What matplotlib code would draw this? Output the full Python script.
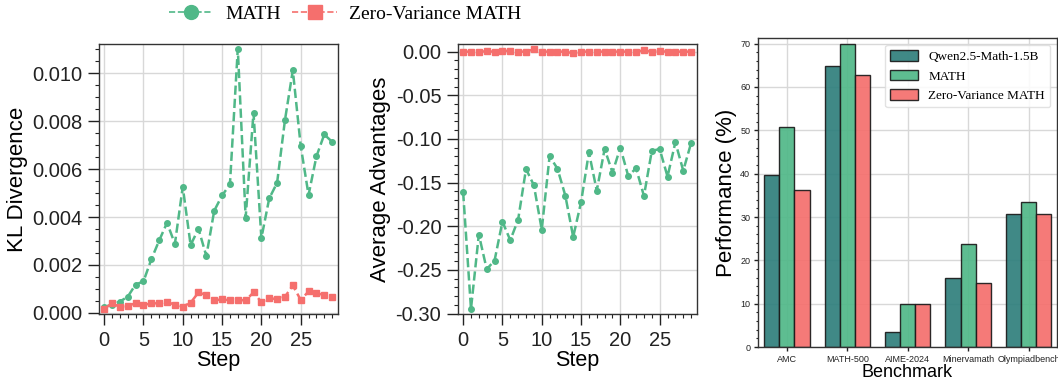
import numpy as np
import matplotlib
matplotlib.use('Agg')
import matplotlib.pyplot as plt
from matplotlib.ticker import AutoMinorLocator, MultipleLocator
from matplotlib.lines import Line2D

# ── Palette ───────────────────────────────────────────────────────────────────
C_BASE = '#2f7f7c'
C_MATH = '#50b888'
C_ZV   = '#f56f6d'
GRID   = '#d8d8d8'
SPINE  = '#333333'

SANS  = ['Liberation Sans', 'DejaVu Sans']
SERIF = ['Liberation Serif', 'DejaVu Serif']

# ── Training curves ───────────────────────────────────────────────────────────
steps = np.arange(30)

kl_math = [0.00025, 0.00033, 0.00047, 0.00067, 0.00118, 0.00131, 0.00223, 0.00302,
           0.00376, 0.00288, 0.00526, 0.00283, 0.00351, 0.00237, 0.00426, 0.00490,
           0.00536, 0.01103, 0.00398, 0.00836, 0.00312, 0.00478, 0.00543, 0.00805,
           0.01013, 0.00698, 0.00492, 0.00653, 0.00745, 0.00714]
kl_zv = [0.00017, 0.00039, 0.00025, 0.00029, 0.00040, 0.00032, 0.00040, 0.00039,
         0.00046, 0.00033, 0.00026, 0.00042, 0.00085, 0.00074, 0.00052, 0.00056,
         0.00052, 0.00053, 0.00052, 0.00085, 0.00045, 0.00061, 0.00057, 0.00067,
         0.00114, 0.00054, 0.00089, 0.00081, 0.00075, 0.00067]

adv_math = [-0.1607, -0.2947, -0.2095, -0.2492, -0.2393, -0.1947, -0.2160, -0.1924,
            -0.1344, -0.1531, -0.2038, -0.1198, -0.1340, -0.1649, -0.2122, -0.1725,
            -0.1153, -0.1592, -0.1115, -0.1385, -0.1099, -0.1424, -0.1336, -0.1653,
            -0.1137, -0.1115, -0.1431, -0.1038, -0.1363, -0.1046]
adv_zv = [0.0, 0.0, 0.0, 0.0004, 0.0, 0.0011, 0.0008, 0.0, 0.0, 0.0027,
          0.0, 0.0, 0.0, 0.0, -0.0019, 0.0, 0.0, 0.0, 0.0, 0.0,
          0.0, 0.0, 0.0, 0.0015, 0.0, 0.0011, -0.0004, 0.0, 0.0, 0.0]

# ── Benchmark results ─────────────────────────────────────────────────────────
benchmarks = ['AMC', 'MATH-500', 'AIME-2024', 'Minervamath', 'Olympiadbench']
perf_base = [39.8, 64.9, 3.4, 15.9, 30.7]
perf_math = [50.7, 69.9, 10.0, 23.8, 33.5]
perf_zv   = [36.2, 62.7, 10.0, 14.8, 30.8]
series_names = ['Qwen2.5-Math-1.5B', 'MATH', 'Zero-Variance MATH']

plt.rcParams.update({
    'font.family': SANS,
    'axes.edgecolor': SPINE,
    'axes.linewidth': 1.0,
    'xtick.direction': 'out',
    'ytick.direction': 'out',
})

fig = plt.figure(figsize=(10.58, 3.81), dpi=100)


def style_axes(ax, tick_size, major_len=8, minor_len=2.8, pad=4):
    ax.grid(True, color=GRID, linewidth=1.0)
    ax.set_axisbelow(True)
    ax.tick_params(which='major', length=major_len, width=1, pad=pad,
                   labelsize=tick_size, colors='#222222')
    ax.tick_params(which='minor', length=minor_len, width=0.8, colors='#222222')
    for sp in ax.spines.values():
        sp.set_color(SPINE)


def curve_panel(ax, y_math, y_zv):
    ax.plot(steps, y_math, color=C_MATH, linestyle='--', linewidth=1.8,
            marker='o', markersize=4, label='MATH')
    ax.plot(steps, y_zv, color=C_ZV, linestyle='--', linewidth=1.8,
            marker='s', markersize=4, label='Zero-Variance MATH')
    ax.set_xlim(-0.65, 29.75)
    ax.xaxis.set_major_locator(MultipleLocator(5))
    ax.xaxis.set_minor_locator(MultipleLocator(1))
    ax.set_xlabel('Step', fontsize=15.5, labelpad=0)
    style_axes(ax, 14.5)


# KL divergence
ax1 = fig.add_axes([0.0936, 0.1759, 0.2259, 0.7087])
curve_panel(ax1, kl_math, kl_zv)
ax1.set_ylim(-0.00005, 0.01123)
ax1.yaxis.set_major_locator(MultipleLocator(0.002))
ax1.yaxis.set_minor_locator(AutoMinorLocator(4))
ax1.yaxis.set_major_formatter(plt.FormatStrFormatter('%.3f'))
ax1.set_ylabel('KL Divergence', fontsize=16, labelpad=3)

# Average advantages
ax2 = fig.add_axes([0.4329, 0.1759, 0.2259, 0.7087])
curve_panel(ax2, adv_math, adv_zv)
ax2.set_ylim(-0.3005, 0.0088)
ax2.yaxis.set_major_locator(MultipleLocator(0.05))
ax2.yaxis.set_minor_locator(AutoMinorLocator(5))
ax2.yaxis.set_major_formatter(plt.FormatStrFormatter('%.2f'))
ax2.set_ylabel('Average Advantages', fontsize=16, labelpad=3)

# Shared legend on top
handles = [
    Line2D([], [], color=C_MATH, linestyle='--', linewidth=1.2, marker='o', markersize=10),
    Line2D([], [], color=C_ZV, linestyle='--', linewidth=1.2, marker='s', markersize=10),
]
fig.legend(handles, ['MATH', 'Zero-Variance MATH'], loc='center',
           bbox_to_anchor=(0.326, 0.962), ncol=2, frameon=False,
           prop={'family': SERIF, 'size': 14}, handlelength=2.3,
           handletextpad=0.6, columnspacing=0.6)

# Benchmark bars
ax3 = fig.add_axes([0.7164, 0.0892, 0.2826, 0.811])
x = np.arange(len(benchmarks))
width = 0.25
for i, (vals, col, name) in enumerate(zip([perf_base, perf_math, perf_zv],
                                          [C_BASE, C_MATH, C_ZV], series_names)):
    ax3.bar(x + (i - 1) * width, vals, width, color=col, alpha=0.92,
            edgecolor='#1a1a1a', linewidth=1.0, label=name)
ax3.set_xlim(-0.48, 4.47)
ax3.set_ylim(0, 71.3)
ax3.set_xticks(x)
ax3.set_xticklabels(benchmarks)
ax3.yaxis.set_major_locator(MultipleLocator(10))
ax3.yaxis.set_minor_locator(AutoMinorLocator(5))
style_axes(ax3, 6.5, major_len=3, minor_len=1.5, pad=2.5)
ax3.set_xlabel('Benchmark', fontsize=13, labelpad=0)
ax3.set_ylabel('Performance (%)', fontsize=16, labelpad=2)
leg = ax3.legend(loc='upper right', prop={'family': SERIF, 'size': 9.5},
                 fancybox=True, framealpha=0.85, edgecolor='#dddddd',
                 handlelength=2.1, handleheight=0.9, borderaxespad=0.5)

fig.savefig('out.png', dpi=100)
